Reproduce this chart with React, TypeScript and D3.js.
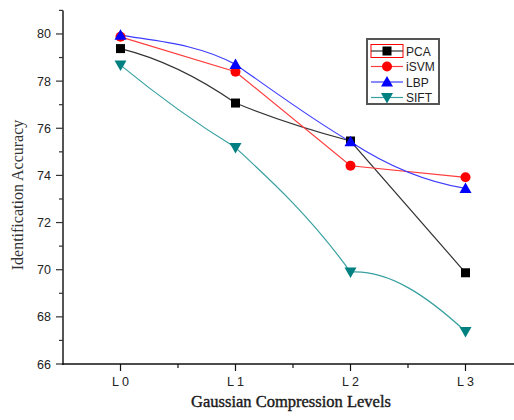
import React from "react";
import * as d3 from "d3";

const levels = ["L 0", "L 1", "L 2", "L 3"];
const pca = [79.38, 77.07, 75.46, 69.87];
const isvm = [79.88, 78.4, 74.41, 73.92];
const lbp = [79.95, 78.71, 75.43, 73.45];
const sift = [78.68, 75.18, 69.9, 67.38];
const yTicks = [66, 68, 70, 72, 74, 76, 78, 80];
const yMinor = [67, 69, 71, 73, 75, 77, 79, 81];
const xMinor = [0.5, 1.5, 2.5];

// per-segment start/end slopes (value units per level) of the spline connector; null = straight
type Seg = [number, number] | null;
type Series = { name: string; values: number[]; color: string; line: string; marker: string; segs: Seg[] };
const seriesList: Series[] = [
  { name: "PCA", values: pca, color: "#000000", line: "#333333", marker: "square", segs: [[-1.2, -3.4], [-2.0, -1.3], null] },
  { name: "iSVM", values: isvm, color: "#ff0000", line: "#ff3c3c", marker: "circle", segs: [null, null, null] },
  { name: "LBP", values: lbp, color: "#0000ff", line: "#3c3cff", marker: "up", segs: [[-0.8, -2.6], [-3.4, -2.8], [-3.2, -0.8]] },
  { name: "SIFT", values: sift, color: "#008080", line: "#38a0a0", marker: "down", segs: [[-4.0, -3.0], [-4.5, -6.8], [0.3, -4.5]] },
];

function Marker({ type, x, y, color }: { type: string; x: number; y: number; color: string }) {
  if (type === "square") return <rect x={x - 4.5} y={y - 4.5} width={9} height={9} fill={color} />;
  if (type === "circle") return <circle cx={x} cy={y} r={5} fill={color} />;
  if (type === "up") return <path d={`M${x},${y - 6} L${x + 6},${y + 4.5} L${x - 6},${y + 4.5} Z`} fill={color} />;
  return <path d={`M${x},${y + 6} L${x + 6},${y - 4.5} L${x - 6},${y - 4.5} Z`} fill={color} />;
}

export default function App() {
  const W = 514, H = 420;
  const x = d3.scaleLinear().domain([-0.5, 3.5]).range([63, 523]);
  const y = d3.scaleLinear().domain([66, 81]).range([364, 10.4]);
  const sans = "'Liberation Sans', Arial, sans-serif";
  const serif = "'Liberation Serif', 'Times New Roman', serif";
  const lx = 371, ly0 = 51, lstep = 15.5;

  const buildPath = (s: Series) => {
    const p = d3.path();
    p.moveTo(x(0), y(s.values[0]));
    for (let i = 0; i < s.values.length - 1; i++) {
      const v0 = s.values[i], v1 = s.values[i + 1];
      const seg = s.segs[i];
      if (!seg) {
        p.lineTo(x(i + 1), y(v1));
      } else {
        const [m0, m1] = seg;
        p.bezierCurveTo(
          x(i + 1 / 3), y(v0 + m0 / 3),
          x(i + 2 / 3), y(v1 - m1 / 3),
          x(i + 1), y(v1)
        );
      }
    }
    return p.toString();
  };

  return (
    <svg width={W} height={H} style={{ position: "absolute", left: 0, top: 0 }}>
      <rect width={W} height={H} fill="#fff" />
      {seriesList.map((s) => (
        <path key={s.name} d={buildPath(s)} fill="none" stroke={s.line} strokeWidth={1.2} />
      ))}
      {seriesList.map((s) => s.values.map((v, i) => (
        <Marker key={s.name + i} type={s.marker} x={x(i)} y={y(v)} color={s.color} />
      )))}
      {/* y axis */}
      <line x1={63} x2={63} y1={y(81)} y2={365} stroke="#555" strokeWidth={2} />
      {yTicks.map((t) => (
        <g key={t}>
          <line x1={56} x2={63} y1={y(t)} y2={y(t)} stroke="#333" strokeWidth={1.2} />
          <text x={51} y={y(t) + 4.5} textAnchor="end" fontFamily={sans} fontSize={12.5} fill="#222">{t}</text>
        </g>
      ))}
      {yMinor.map((t) => (
        <line key={t} x1={59} x2={63} y1={y(t)} y2={y(t)} stroke="#333" strokeWidth={1.2} />
      ))}
      {/* x axis */}
      <line x1={62} x2={514} y1={364} y2={364} stroke="#111" strokeWidth={1.5} />
      {levels.map((l, i) => (
        <g key={l}>
          <line x1={x(i)} x2={x(i)} y1={364} y2={371} stroke="#111" strokeWidth={1.2} />
          <text x={x(i)} y={386} textAnchor="middle" fontFamily={sans} fontSize={12.5} fill="#222">{l}</text>
        </g>
      ))}
      {xMinor.map((t) => (
        <line key={t} x1={x(t)} x2={x(t)} y1={364} y2={368} stroke="#111" strokeWidth={1.2} />
      ))}
      <text x={291} y={407} textAnchor="middle" fontFamily={serif} fontSize={16.5} fill="#1a1a1a" stroke="#1a1a1a" strokeWidth={0.4}>Gaussian Compression Levels</text>
      <text transform={`translate(23,195) rotate(-90)`} textAnchor="middle" fontFamily={serif} fontSize={16} fill="#333">Identification Accuracy</text>
      {/* legend */}
      <rect x={367} y={39} width={72} height={65} fill="#fff" stroke="#555" strokeWidth={2} />
      <rect x={371} y={44.5} width={32} height={13} fill="none" stroke="#ff0000" strokeWidth={1} />
      {seriesList.map((s, i) => {
        const yy = ly0 + i * lstep;
        return (
          <g key={s.name}>
            <line x1={lx} x2={lx + 32} y1={yy} y2={yy} stroke={s.line} strokeWidth={1.2} />
            <Marker type={s.marker} x={lx + 16} y={yy} color={s.color} />
            <text x={lx + 35} y={yy + 4.5} fontFamily={sans} fontSize={12} fill="#222">{s.name}</text>
          </g>
        );
      })}
    </svg>
  );
}
